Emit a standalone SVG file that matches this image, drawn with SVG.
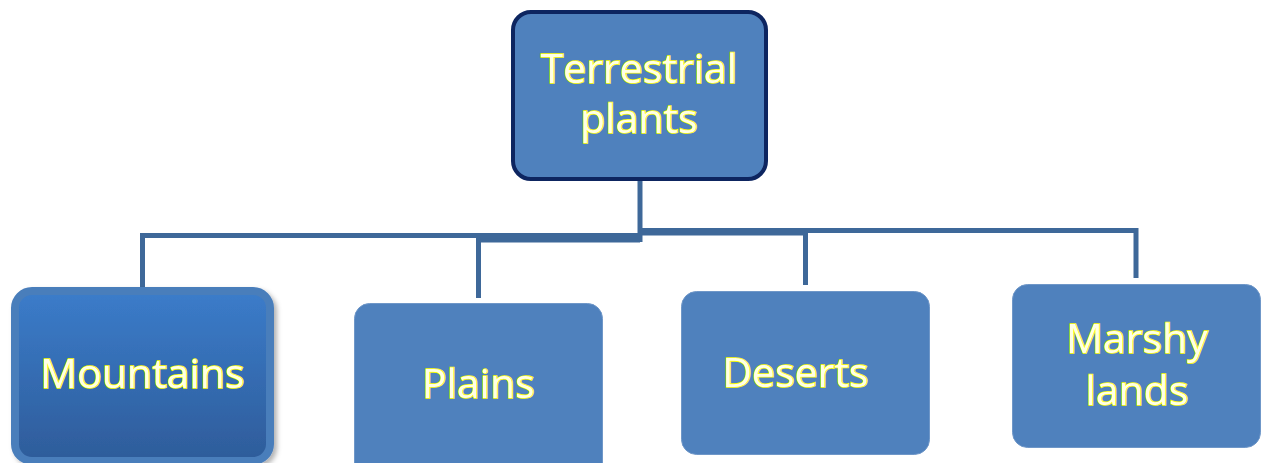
<svg xmlns="http://www.w3.org/2000/svg" width="1261" height="463" viewBox="0 0 1261 463">
<defs>
<linearGradient id="mg" x1="0" y1="0" x2="0" y2="1">
<stop offset="0" stop-color="#3b7cca"/>
<stop offset="1" stop-color="#2e5c9a"/>
</linearGradient>
<filter id="sh" x="-10%" y="-10%" width="125%" height="125%">
<feDropShadow dx="3" dy="3" stdDeviation="2.5" flood-color="#000" flood-opacity="0.3"/>
</filter>
</defs>
<style>
.box{fill:#4f81bd;stroke:#6f97c8;stroke-width:1}
.lbl{font-family:"Open Sans","DejaVu Sans",sans-serif;font-size:41px;fill:#ffffe6;stroke:#ffff00;stroke-width:1.6;paint-order:stroke;text-anchor:middle}
.con{fill:none;stroke:#3e6899;stroke-width:5}
</style>
<g id="connectors">
<path class="con" d="M142.5 288 V235.5 H640"/>
<path class="con" d="M478.5 298 V240 H640"/>
<path class="con" d="M640 181 V242"/>
<path class="con" d="M640 230.5 H1136 V278"/>
<path class="con" d="M805.5 285 V233 H640"/>
</g>
<g id="node-terrestrial">
<rect x="513" y="12" width="253" height="167" rx="18" fill="#4f81bd" stroke="#0d2560" stroke-width="4"/>
<text class="lbl" x="639" y="83">Terrestrial</text>
<text class="lbl" x="639" y="133">plants</text>
</g>
<g id="node-mountains">
<rect x="15" y="291" width="255" height="170" rx="17" fill="url(#mg)" stroke="#4a7ebb" stroke-width="8" filter="url(#sh)"/>
<text class="lbl" x="142.5" y="388">Mountains</text>
</g>
<g id="node-plains">
<rect x="354.5" y="303.5" width="248" height="175" rx="15" class="box"/>
<text class="lbl" x="478.5" y="398">Plains</text>
</g>
<g id="node-deserts">
<rect x="681.5" y="291.5" width="248" height="163" rx="15" class="box"/>
<text class="lbl" x="795.5" y="387">Deserts</text>
</g>
<g id="node-marshy">
<rect x="1012.5" y="284.5" width="248" height="163" rx="15" class="box"/>
<text class="lbl" x="1137" y="353">Marshy</text>
<text class="lbl" x="1137" y="405">lands</text>
</g>
</svg>
